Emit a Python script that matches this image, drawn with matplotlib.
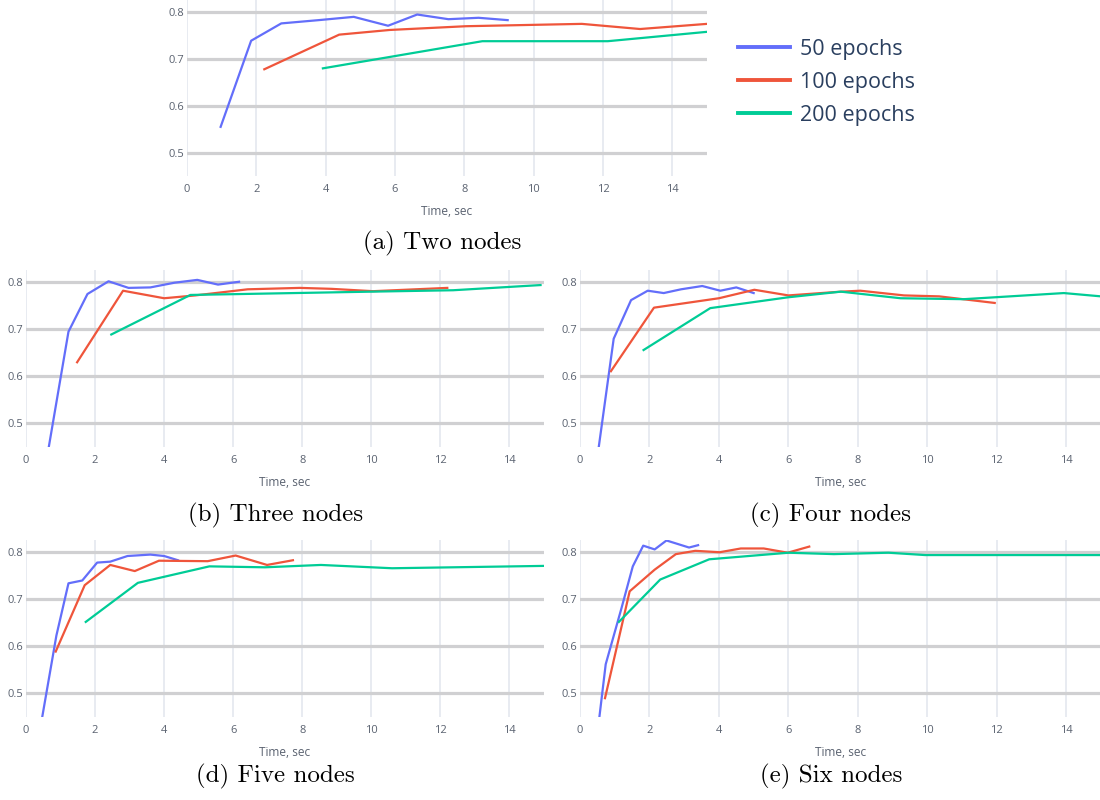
import matplotlib
matplotlib.use("Agg")
import matplotlib.pyplot as plt

# 色（plotly の既定色）
c50 = "#636EFA"
c100 = "#EF553B"
c200 = "#00CC96"

# (a) 2 ノード
a_x50 = [0.97, 1.85, 2.72, 3.8, 4.81, 5.80, 6.64, 7.54, 8.41, 9.25]
a_y50 = [0.555, 0.739, 0.776, 0.783, 0.790, 0.771, 0.795, 0.785, 0.788, 0.783]
a_x100 = [2.23, 4.39, 5.85, 8.05, 11.39, 13.07, 15.0]
a_y100 = [0.678, 0.752, 0.762, 0.770, 0.775, 0.764, 0.775]
a_x200 = [3.92, 8.52, 12.14, 15.0]
a_y200 = [0.680, 0.738, 0.738, 0.758]

# (b) 3 ノード
b_x50 = [0.66, 1.23, 1.78, 2.39, 2.97, 3.60, 4.3, 4.96, 5.56, 6.17]
b_y50 = [0.45, 0.695, 0.775, 0.802, 0.788, 0.789, 0.799, 0.805, 0.795, 0.801]
b_x100 = [1.48, 2.81, 4.0, 4.9, 6.42, 7.93, 8.84, 10.05, 12.2]
b_y100 = [0.630, 0.782, 0.766, 0.772, 0.785, 0.788, 0.786, 0.781, 0.788]
b_x200 = [2.47, 4.76, 10.0, 12.37, 14.9]
b_y200 = [0.689, 0.773, 0.780, 0.783, 0.794]

# (c) 4 ノード
c_x50 = [0.54, 0.97, 1.47, 1.95, 2.41, 2.91, 3.52, 4.04, 4.50, 5.0]
c_y50 = [0.45, 0.680, 0.762, 0.782, 0.777, 0.785, 0.792, 0.782, 0.789, 0.777]
c_x100 = [0.89, 2.13, 4.0, 5.02, 6.0, 7.51, 8.07, 9.33, 10.34, 11.94]
c_y100 = [0.611, 0.746, 0.766, 0.784, 0.772, 0.780, 0.782, 0.772, 0.770, 0.756]
c_x200 = [1.83, 3.75, 5.99, 7.51, 9.23, 11.05, 13.93, 15.0]
c_y200 = [0.656, 0.745, 0.768, 0.780, 0.766, 0.764, 0.777, 0.770]

# (d) 5 ノード
d_x50 = [0.47, 0.88, 1.23, 1.63, 2.06, 2.44, 2.94, 3.60, 4.0, 4.40]
d_y50 = [0.45, 0.623, 0.734, 0.740, 0.778, 0.780, 0.792, 0.795, 0.792, 0.783]
d_x100 = [0.86, 1.70, 2.44, 3.15, 3.85, 5.26, 6.07, 6.98, 7.73]
d_y100 = [0.589, 0.730, 0.773, 0.760, 0.782, 0.781, 0.793, 0.773, 0.783]
d_x200 = [1.73, 3.24, 5.31, 6.92, 8.54, 10.6, 15.0]
d_y200 = [0.652, 0.735, 0.770, 0.768, 0.773, 0.766, 0.771]

# (e) 6 ノード
e_x50 = [0.56, 0.74, 1.19, 1.52, 1.82, 2.15, 2.49, 3.14, 3.40]
e_y50 = [0.451, 0.562, 0.680, 0.770, 0.814, 0.806, 0.825, 0.810, 0.815]
e_x100 = [0.72, 1.43, 2.15, 2.76, 3.32, 4.02, 4.63, 5.29, 5.98, 6.6]
e_y100 = [0.490, 0.717, 0.763, 0.796, 0.803, 0.800, 0.808, 0.808, 0.799, 0.812]
e_x200 = [1.12, 2.31, 3.72, 6.0, 7.31, 8.88, 9.94, 15.0]
e_y200 = [0.652, 0.742, 0.785, 0.799, 0.796, 0.799, 0.794, 0.794]

labels = ["50 epochs", "100 epochs", "200 epochs"]
captions = ["(a) Two nodes", "(b) Three nodes", "(c) Four nodes",
            "(d) Five nodes", "(e) Six nodes"]

panels = [
    (a_x50, a_y50, a_x100, a_y100, a_x200, a_y200),
    (b_x50, b_y50, b_x100, b_y100, b_x200, b_y200),
    (c_x50, c_y50, c_x100, c_y100, c_x200, c_y200),
    (d_x50, d_y50, d_x100, d_y100, d_x200, d_y200),
    (e_x50, e_y50, e_x100, e_y100, e_x200, e_y200),
]

W, H = 1100, 800
# 各パネルの位置（ピクセル: 左, 上, 幅, 高さ）
boxes = [
    (187, 0, 520, 176),
    (26, 270, 518, 177),
    (580, 270, 521, 177),
    (26, 540, 518, 177),
    (580, 540, 521, 177),
]
cap_pos = [(442, 243), (276, 515), (831, 515), (275, 776), (831, 776)]

tick_color = "#5a6270"
fig = plt.figure(figsize=(11, 8), dpi=100)

lines = []
for (l, t, w, h), data in zip(boxes, panels):
    ax = fig.add_axes([l / W, 1 - (t + h) / H, w / W, h / H])
    ax.set_xlim(0, 15)
    ax.set_ylim(0.45, 0.826)
    ax.set_xticks(range(0, 15, 2))
    ax.set_yticks([0.5, 0.6, 0.7, 0.8])
    ax.set_yticklabels(["0.5", "0.6", "0.7", "0.8"])
    for x in range(0, 15, 2):
        ax.axvline(x, color="#e6e9f0", lw=1.3, zorder=0)
    for y in [0.5, 0.6, 0.7, 0.8]:
        ax.axhline(y, color="#d0d0d2", lw=2.3, zorder=0.5)
    for s in ax.spines.values():
        s.set_visible(False)
    ax.tick_params(length=0, labelsize=8, labelcolor=tick_color)
    ax.tick_params(axis="x", pad=6)
    ax.tick_params(axis="y", pad=2)
    for lab in ax.get_xticklabels() + ax.get_yticklabels():
        lab.set_family("Open Sans")
    ax.set_xlabel("Time, sec", fontsize=8.6, color=tick_color,
                  family="Open Sans", labelpad=7)
    x50, y50, x100, y100, x200, y200 = data
    l1, = ax.plot(x50, y50, color=c50, lw=1.6)
    l2, = ax.plot(x100, y100, color=c100, lw=1.6)
    l3, = ax.plot(x200, y200, color=c200, lw=1.6)
    lines = [l1, l2, l3]

for (cx, cy), txt in zip(cap_pos, captions):
    fig.text(cx / W, 1 - cy / H, txt, ha="center", va="center",
             fontsize=18, family=["cmr10", "DejaVu Serif"])

fig.legend(lines, labels, loc="upper left",
           bbox_to_anchor=(738 / W, 1 - 39 / H), frameon=False,
           borderpad=0, borderaxespad=0, handlelength=2.4,
           handletextpad=0.5, labelspacing=0.55,
           prop={"family": "Open Sans", "size": 15.5}, labelcolor="#2a3f5f")
for lg in fig.legends[0].get_lines():
    lg.set_linewidth(2.8)

fig.savefig("out.png", dpi=100)
